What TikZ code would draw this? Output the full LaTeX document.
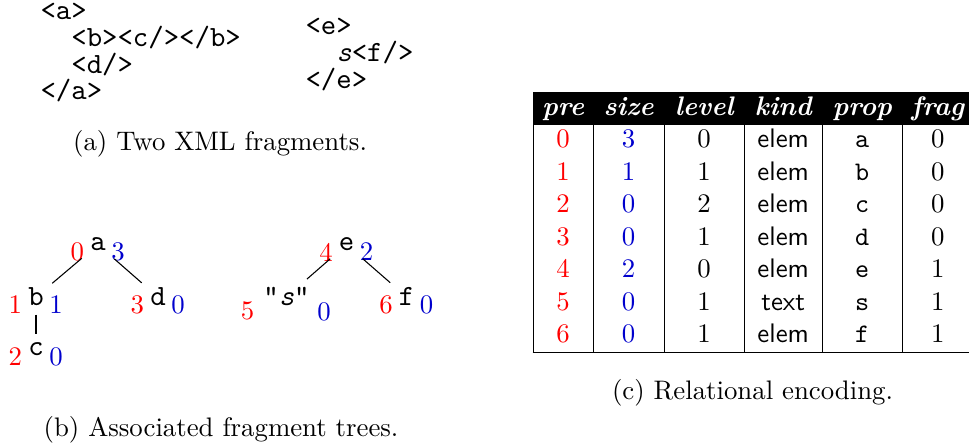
\documentclass[tikz,border=0pt]{standalone}
\usepackage{tikz}
\usetikzlibrary{positioning}
\usepackage{array, colortbl}
\definecolor{precolor}{RGB}{255,0,0}
\definecolor{sizecolor}{RGB}{0,0,205}
\newcommand{\prenum}[1]{\textcolor{precolor}{#1}}
\newcommand{\sizenum}[1]{\textcolor{sizecolor}{#1}}
\newcommand{\colhead}[1]{\textcolor{white}{\bfseries\itshape #1}}
\tikzset{
  xmlline/.style = {anchor=base west, inner sep=0pt,
                    font=\fontsize{10.95}{13}\selectfont\ttfamily},
  tnode/.style   = {inner sep=3pt, anchor=base,
                    font=\fontsize{10.95}{13}\selectfont\ttfamily},
  prelbl/.style  = {inner sep=0pt, font=\normalsize, text=precolor},
  sizelbl/.style = {inner sep=0pt, font=\normalsize, text=sizecolor},
  capt/.style    = {anchor=base, inner sep=0pt, font=\normalsize},
}

\begin{document}
\begin{tikzpicture}[
    edge/.style={line width=0.4pt, black}
]
\useasboundingbox (0,0) rectangle (12.71,5.876);

% ---------------- (a) fragments ----------------
\node[xmlline] (a1) at (0.525,5.614) {<a>};
\node[xmlline] (a2) at (0.525,5.264) {\ \ <b><c/></b>};
\node[xmlline] (a3) at (0.525,4.915) {\ \ <d/>};
\node[xmlline] (a4) at (0.525,4.565) {</a>};

\node[xmlline] (e1) at (4.001,5.417) {<e>};
\node[xmlline] (e2) at (4.001,5.067) {\ \ \textit{s}<f/>};
\node[xmlline] (e3) at (4.001,4.717) {</e>};

\node[capt] (capa) at (2.886,3.905) {(a) Two XML fragments.};

% ---------------- (b) trees ----------------
\node[tnode] (a) at (1.285,2.584) {a};
\node[tnode] (b) at (0.472,1.863) {b};
\node[tnode] (c) at (0.472,1.207) {c};
\node[tnode] (d) at (2.072,1.863) {d};

\node[tnode] (e) at (4.545,2.584) {e};
\node[tnode] (s) at (3.758,1.863) {"\textit{s}"};
\node[tnode] (f) at (5.332,1.863) {f};

\node[prelbl, below left=-0.75pt and -1.1pt of a.west] {0};
\node[sizelbl, below right=-0.75pt and -1.3pt of a.east] {3};
\node[prelbl, below left=-0.75pt and -1.1pt of b.west] {1};
\node[sizelbl, below right=-0.75pt and -1.3pt of b.east] {1};
\node[prelbl, below left=-0.75pt and -1.1pt of c.west] {2};
\node[sizelbl, below right=-0.75pt and -1.3pt of c.east] {0};
\node[prelbl, below left=-0.75pt and -1.1pt of d.west] {3};
\node[sizelbl, below right=-0.75pt and -1.3pt of d.east] {0};

\node[prelbl, below left=-0.75pt and -1.1pt of e.west] {4};
\node[sizelbl, below right=-0.75pt and -1.3pt of e.east] {2};
\node[prelbl, below left=1.6pt and 0pt of s.west] {5};
\node[sizelbl, below right=1.9pt and -0.5pt of s.east] {0};
\node[prelbl, below left=-0.75pt and -1.1pt of f.west] {6};
\node[sizelbl, below right=-0.75pt and -1.3pt of f.east] {0};

\draw[edge] (a) -- (b);
\draw[edge] (a) -- (d);
\draw[edge] (b) -- (c);
\draw[edge] (e) -- (s);
\draw[edge] (e) -- (f);

\node[capt] (capb) at (2.899,0.153) {(b) Associated fragment trees.};

% ---------------- (c) table ----------------
\node[anchor=north west, inner sep=0pt] (rel) at (6.978,4.670) {%
\setlength{\tabcolsep}{0pt}\renewcommand{\arraystretch}{1.01}%
\begin{tabular}{|w{c}{22pt}|w{c}{26.1pt}|w{c}{29.5pt}|w{c}{28.7pt}|w{c}{29.5pt}|w{c}{26.1pt}|}
\rowcolor{black}
\colhead{pre} & \colhead{size} & \colhead{level} & \colhead{kind} & \colhead{prop} & \colhead{frag} \\
\prenum{0} & \sizenum{3} & 0 & \textsf{elem} & \texttt{a} & 0 \\
\prenum{1} & \sizenum{1} & 1 & \textsf{elem} & \texttt{b} & 0 \\
\prenum{2} & \sizenum{0} & 2 & \textsf{elem} & \texttt{c} & 0 \\
\prenum{3} & \sizenum{0} & 1 & \textsf{elem} & \texttt{d} & 0 \\
\prenum{4} & \sizenum{2} & 0 & \textsf{elem} & \texttt{e} & 1 \\
\prenum{5} & \sizenum{0} & 1 & \textsf{text} & \texttt{s} & 1 \\
\prenum{6} & \sizenum{0} & 1 & \textsf{elem} & \texttt{f} & 1 \\
\hline
\end{tabular}};

\node[capt] (capc) at (9.871,0.636) {(c) Relational encoding.};

\end{tikzpicture}
\end{document}
